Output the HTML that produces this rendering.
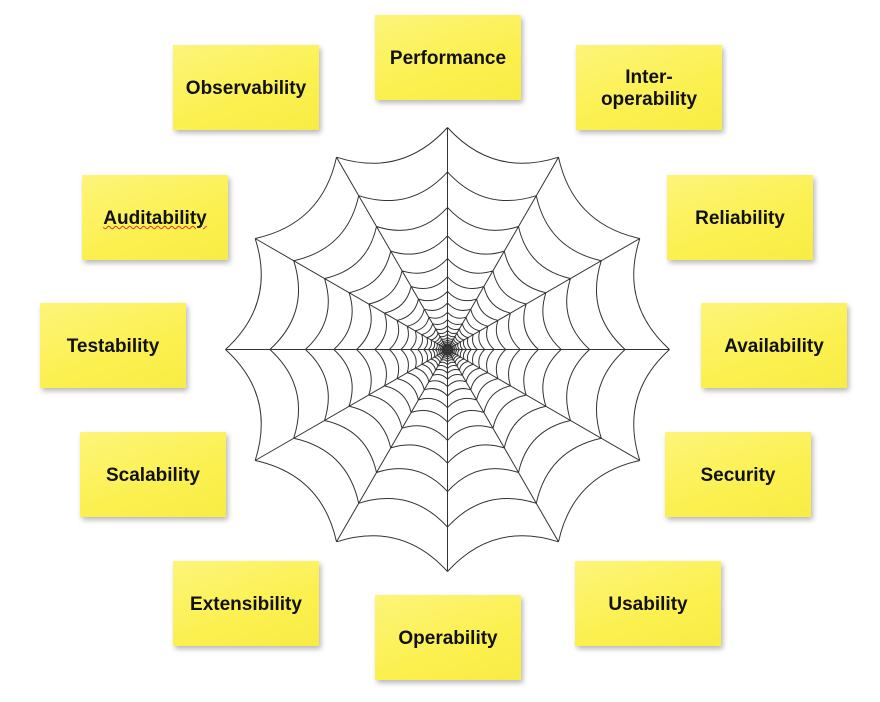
<!DOCTYPE html>
<html><head><meta charset="utf-8">
<style>
html,body{margin:0;padding:0;background:#fff;}
body{width:880px;height:702px;position:relative;overflow:hidden;}
.n{position:absolute;width:146px;height:85px;background:linear-gradient(160deg,#fdf57a 0%,#fbf04f 60%,#f8ec45 100%);box-shadow:2px 3px 5px rgba(0,0,0,0.28);display:flex;align-items:center;justify-content:center;text-align:center;font-family:"Liberation Sans Narrow","Liberation Sans",sans-serif;font-weight:bold;font-size:19px;line-height:22px;color:#111;padding-top:3px;box-sizing:border-box;}
svg{position:absolute;left:0;top:0;}
</style></head><body>
<svg id="w" width="880" height="702" viewBox="0 0 880 702"></svg>
<div class="n" style="left:375px;top:15px">Performance</div>
<div class="n" style="left:576px;top:45px">Inter-<br>operability</div>
<div class="n" style="left:173px;top:45px">Observability</div>
<div class="n" style="left:667px;top:175px">Reliability</div>
<div class="n" style="left:82px;top:175px"><span style="text-decoration:underline wavy #d33;text-decoration-thickness:1px">Auditability</span></div>
<div class="n" style="left:701px;top:303px">Availability</div>
<div class="n" style="left:40px;top:303px">Testability</div>
<div class="n" style="left:665px;top:432px">Security</div>
<div class="n" style="left:80px;top:432px">Scalability</div>
<div class="n" style="left:575px;top:561px">Usability</div>
<div class="n" style="left:173px;top:561px">Extensibility</div>
<div class="n" style="left:375px;top:595px">Operability</div>
<script>
(function(){
var cx=447.5,cy=349.5,R=222,d="";
function p(r,a){return [cx+r*Math.cos(a),cy-r*Math.sin(a)];}
for(var i=0;i<12;i++){var a=i*Math.PI/6,q=p(R,a);d+="M"+cx+" "+cy+"L"+q[0].toFixed(1)+" "+q[1].toFixed(1);}
var r=R;
for(var k=0;k<20;k++){
 for(var i=0;i<12;i++){
  var a0=i*Math.PI/6,a1=(i+1)*Math.PI/6,am=(a0+a1)/2;
  var s=p(r,a0),e=p(r,a1),c=p(r*0.80,am);
  d+="M"+s[0].toFixed(1)+" "+s[1].toFixed(1)+"Q"+c[0].toFixed(1)+" "+c[1].toFixed(1)+" "+e[0].toFixed(1)+" "+e[1].toFixed(1);
 }
 r*=0.8; if(r<3)break;
}
var path=document.createElementNS("http://www.w3.org/2000/svg","path");
path.setAttribute("d",d);path.setAttribute("fill","none");path.setAttribute("stroke","#333");path.setAttribute("stroke-width","1");
document.getElementById("w").appendChild(path);
})();
</script>
</body></html>
